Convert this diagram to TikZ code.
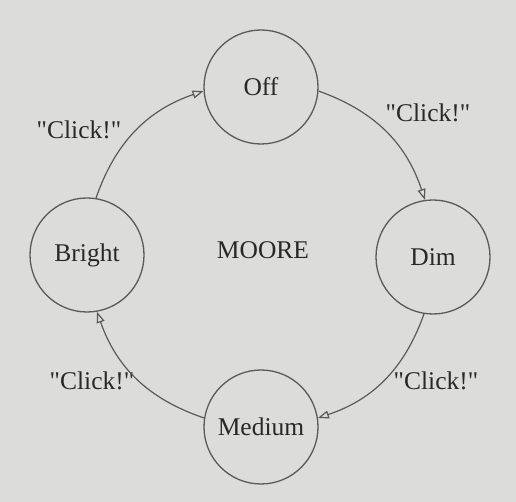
\documentclass[tikz,border=0pt]{standalone}
\usepackage{fontspec}
\setmainfont{Liberation Serif}
\usetikzlibrary{arrows.meta}
\definecolor{paper}{RGB}{220,220,218}
\definecolor{ink}{RGB}{90,90,90}
\definecolor{txt}{RGB}{40,40,40}
\newcommand{\clk}{\textquotedbl Click!\textquotedbl}
\begin{document}
\begin{tikzpicture}[x=1pt,y=1pt,
  state/.style={circle,draw=ink,line width=1.3pt,minimum size=114pt,inner sep=0pt,text=txt,font=\fontsize{25.5}{30}\selectfont},
  lbl/.style={text=txt,font=\fontsize{25.5}{30}\selectfont},
  trans/.style={draw=ink,line width=1.2pt,-{Triangle[open,length=11pt,width=8pt]}}]
\fill[paper] (0,0) rectangle (516,502);
\useasboundingbox (0,0) rectangle (516,502);
\node[state] (off) at (261,415) {Off};
\node[state] (dim) at (433,245) {Dim};
\node[state] (med) at (261,75) {Medium};
\node[state] (bri) at (87,247) {Bright};
\node[lbl] (moore) at (263,252) {MOORE};
\node[lbl] (l1) at (79,372) {\clk};
\node[lbl] (l2) at (428,389) {\clk};
\node[lbl] (l3) at (436,121) {\clk};
\node[lbl] (l4) at (92,121) {\clk};
\draw[trans] (off.-4) to[bend left=26] (dim.98);
\draw[trans] (dim.-99) to[bend left=26] (med.9);
\draw[trans] (med.171) to[bend left=26] (bri.-80);
\draw[trans] (bri.81) to[bend left=26] (off.184);
\end{tikzpicture}
\end{document}
